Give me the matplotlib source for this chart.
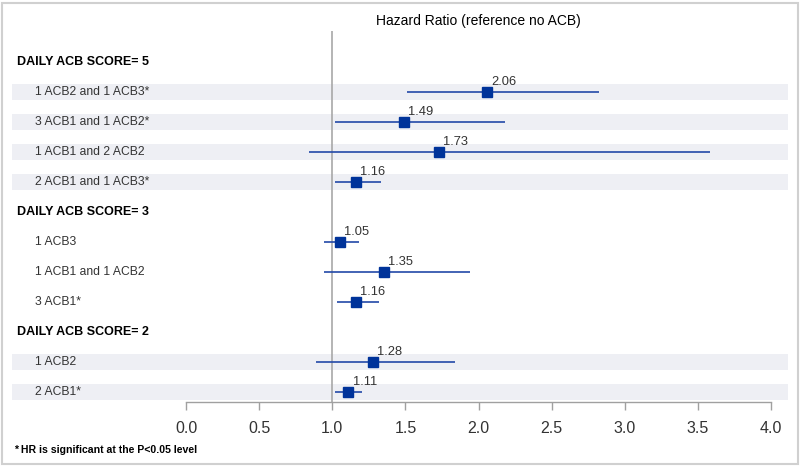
import matplotlib
matplotlib.use("Agg")
import matplotlib.pyplot as plt
import matplotlib.transforms as mtransforms
from matplotlib.patches import Rectangle
import numpy as np

# ---- data ----
group_titles = ["DAILY ACB SCORE= 5", "DAILY ACB SCORE= 3", "DAILY ACB SCORE= 2"]
g5_labels = ["1 ACB2 and 1 ACB3*", "3 ACB1 and 1 ACB2*", "1 ACB1 and 2 ACB2", "2 ACB1 and 1 ACB3*"]
g5_hr = [2.06, 1.49, 1.73, 1.16]
g5_lo = [1.51, 1.02, 0.84, 1.02]
g5_hi = [2.82, 2.18, 3.58, 1.33]
g3_labels = ["1 ACB3", "1 ACB1 and 1 ACB2", "3 ACB1*"]
g3_hr = [1.05, 1.35, 1.16]
g3_lo = [0.94, 0.94, 1.03]
g3_hi = [1.18, 1.94, 1.32]
g2_labels = ["1 ACB2", "2 ACB1*"]
g2_hr = [1.28, 1.11]
g2_lo = [0.89, 1.02]
g2_hi = [1.84, 1.20]
xticks = [0.0, 0.5, 1.0, 1.5, 2.0, 2.5, 3.0, 3.5, 4.0]
title = "Hazard Ratio (reference no ACB)"
footnote = "* HR is significant at the P<0.05 level"

groups = [
    (group_titles[0], g5_labels, g5_hr, g5_lo, g5_hi),
    (group_titles[1], g3_labels, g3_hr, g3_lo, g3_hi),
    (group_titles[2], g2_labels, g2_hr, g2_lo, g2_hi),
]

plt.rcParams['font.family'] = ['Liberation Sans', 'DejaVu Sans']

W, H = 800, 466
fig = plt.figure(figsize=(W / 100, H / 100), dpi=100)
fig.patch.set_facecolor('white')

# axes in pixel layout
ax_left, ax_right, ax_top, ax_bot = 12, 788, 31, 402
ax = fig.add_axes([ax_left / W, (H - ax_bot) / H, (ax_right - ax_left) / W, (ax_bot - ax_top) / H])
ax.set_facecolor('none')

px_per_unit = 146.3
x0_px = 186
xmin = (ax_left - x0_px) / px_per_unit
xmax = (ax_right - x0_px) / px_per_unit
ax.set_xlim(xmin, xmax)

row_px = 30
first_row_px = 62
ax.set_ylim((ax_bot - first_row_px) / row_px, (ax_top - first_row_px) / row_px)

line_col = '#2349a8'
mark_col = '#00339a'
text_col = '#333333'
band_col = '#eeeff4'

trans_lab = mtransforms.blended_transform_factory(fig.transFigure, ax.transData)

row = 0
for gi, (gt, labs, hrs, los, his) in enumerate(groups):
    ax.text(17 / W, row, gt, transform=trans_lab, fontsize=9, fontweight='bold',
            color='black', va='center', ha='left')
    row += 1
    for lab, hr, lo, hi in zip(labs, hrs, los, his):
        if gi % 2 == 0:
            ax.axhspan(row - 0.28, row + 0.28, color=band_col, zorder=0, lw=0)
        ax.text(35 / W, row, lab, transform=trans_lab, fontsize=8.7, color=text_col,
                va='center', ha='left')
        ax.plot([lo, hi], [row, row], color=line_col, lw=1.2, zorder=3, solid_capstyle='butt')
        ax.plot([hr], [row], marker='s', ms=7.3, color=mark_col, zorder=4, ls='none')
        ax.annotate(f"{hr:.2f}", (hr, row), xytext=(3, 3), textcoords='offset points',
                    fontsize=9.3, color=text_col, ha='left', va='bottom', zorder=5)
        row += 1

ax.axvline(1.0, color='#a8a8a8', lw=1.2, zorder=2)

for s in ['top', 'right', 'left']:
    ax.spines[s].set_visible(False)
ax.spines['bottom'].set_bounds(0, 4)
ax.spines['bottom'].set_color('#a0a0a0')
ax.spines['bottom'].set_linewidth(1.0)
ax.set_xticks(xticks)
ax.set_xticklabels([f"{t:.1f}" for t in xticks], fontsize=11.5, color=text_col)
ax.tick_params(axis='x', length=6, width=1.0, color='#a0a0a0', pad=8)
ax.set_yticks([])

ax.text(2.0, (ax_top - first_row_px - 10) / row_px, title, fontsize=10, color='black',
        ha='center', va='center')

fig.text(14 / W, (H - 450) / H, footnote, fontsize=7.6, fontweight='bold', color='black',
         ha='left', va='center')

fig.patches.append(Rectangle((2 / W, 2 / H), (W - 4) / W, (H - 5) / H,
                             transform=fig.transFigure, fill=False,
                             edgecolor='#d0d0d0', lw=1.5))

fig.savefig('out.png', dpi=100, facecolor='white')
